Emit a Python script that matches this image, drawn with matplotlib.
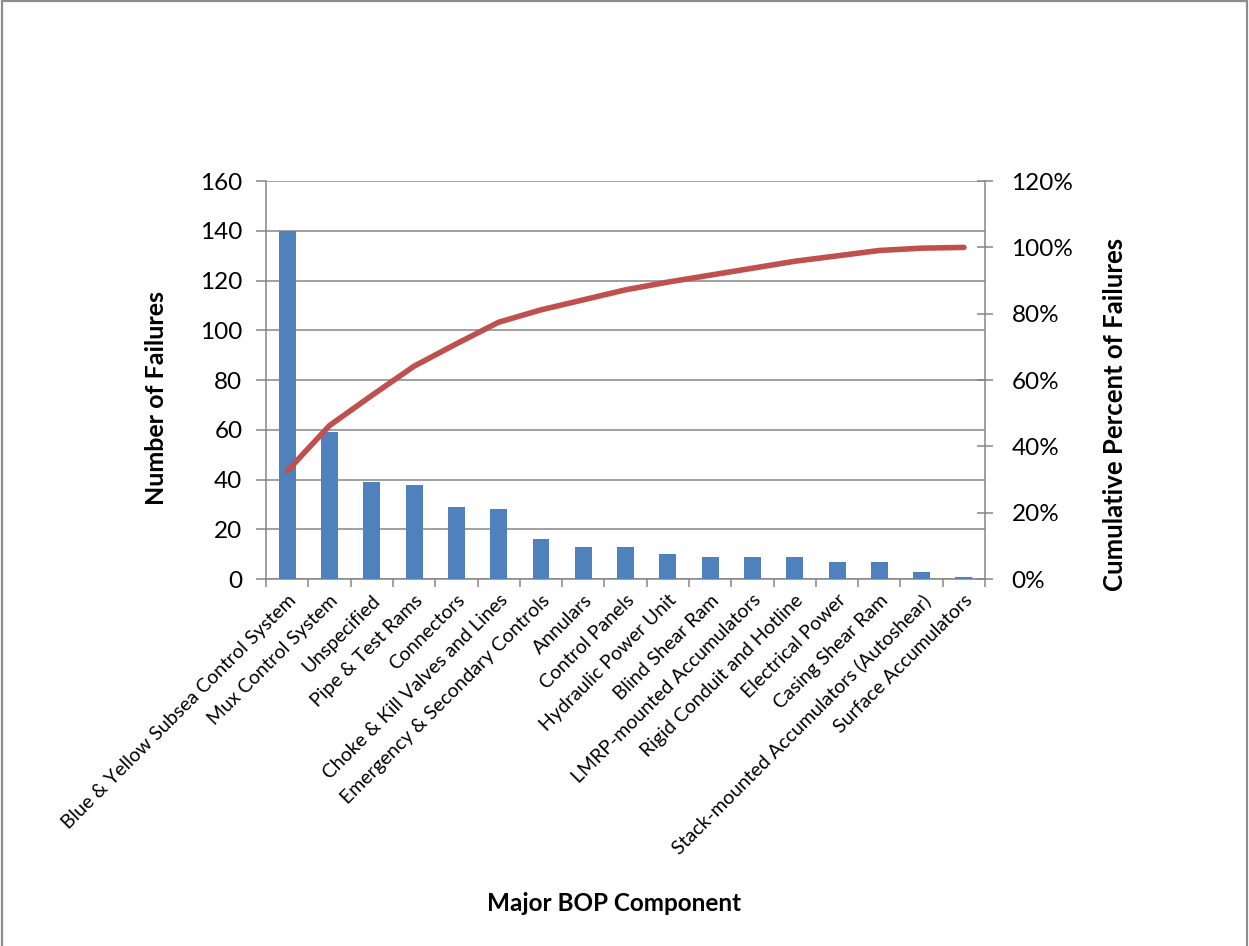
import matplotlib
matplotlib.use("Agg")
import matplotlib.pyplot as plt
from matplotlib.patches import Rectangle
from matplotlib.ticker import FuncFormatter, FixedLocator
import numpy as np

plt.rcParams['font.family'] = ['Lato', 'DejaVu Sans']

components = [
    "Blue & Yellow Subsea Control System",
    "Mux Control System",
    "Unspecified",
    "Pipe & Test Rams",
    "Connectors",
    "Choke & Kill Valves and Lines",
    "Emergency & Secondary Controls",
    "Annulars",
    "Control Panels",
    "Hydraulic Power Unit",
    "Blind Shear Ram",
    "LMRP-mounted Accumulators",
    "Rigid Conduit and Hotline",
    "Electrical Power",
    "Casing Shear Ram",
    "Stack-mounted Accumulators (Autoshear)",
    "Surface Accumulators",
]
failures = [140, 59, 39, 38, 29, 28, 16, 13, 13, 10, 9, 9, 9, 7, 7, 3, 1]

cumulative_pct = np.cumsum(failures) / np.sum(failures)

BAR_COLOR = "#4F81BD"
LINE_COLOR = "#C0504D"
GRID_COLOR = "#868686"

fig = plt.figure(figsize=(12.49, 9.46), dpi=100)
ax = fig.add_axes([0.213, 0.3879, 0.5757, 0.4207])
x = np.arange(len(components))

ax.bar(x, failures, width=0.4, color=BAR_COLOR, zorder=3)
ax.set_xlim(-0.5, len(components) - 0.5)
ax.set_ylim(0, 160)
ax.set_yticks(range(0, 161, 20))
ax.grid(axis='y', color=GRID_COLOR, linewidth=1.1, zorder=0)
ax.set_axisbelow(True)

ax.set_xticks(x)
ax.set_xticklabels(components, rotation=45, ha='right', rotation_mode='anchor', fontsize=14)
ax.xaxis.set_minor_locator(FixedLocator(np.arange(-0.5, len(components), 1)))
ax.tick_params(axis='x', which='major', length=0, pad=9)
ax.tick_params(axis='x', which='minor', length=6, color=GRID_COLOR, width=1.1)
ax.tick_params(axis='y', length=7, color=GRID_COLOR, width=1.1, labelsize=17.5, pad=10)

for side in ['top', 'right']:
    ax.spines[side].set_visible(False)
for side in ['left', 'bottom']:
    ax.spines[side].set_color(GRID_COLOR)
    ax.spines[side].set_linewidth(1.1)

# Cumulative percentage on a secondary axis
ax2 = ax.twinx()
ax2.plot(x, cumulative_pct, color=LINE_COLOR, linewidth=4, solid_capstyle='round', zorder=4)
ax2.set_ylim(0, 1.2)
ax2.set_yticks(np.arange(0, 1.21, 0.2))
ax2.yaxis.set_major_formatter(FuncFormatter(lambda v, p: f"{v * 100:.0f}%"))
ax2.tick_params(axis='y', direction='inout', length=12, color=GRID_COLOR, width=1.1, labelsize=17.5, pad=13)
for side in ['top', 'left', 'bottom']:
    ax2.spines[side].set_visible(False)
ax2.spines['right'].set_color(GRID_COLOR)
ax2.spines['right'].set_linewidth(1.1)

fig.text(0.125, 0.579, "Number of Failures", rotation=90, ha='center', va='center',
         fontsize=18, fontweight='bold')
fig.text(0.8925, 0.562, "Cumulative Percent of Failures", rotation=90, ha='center', va='center',
         fontsize=18.5, fontweight='bold')
fig.text(0.492, 0.045, "Major BOP Component", ha='center', va='center',
         fontsize=17.5, fontweight='bold')

fig.patches.append(Rectangle((0.0016, -0.01), 0.9968, 1.0089, transform=fig.transFigure,
                             fill=False, edgecolor='#8C8C8C', linewidth=1.6))

fig.savefig("out.png", dpi=100, facecolor='white')
